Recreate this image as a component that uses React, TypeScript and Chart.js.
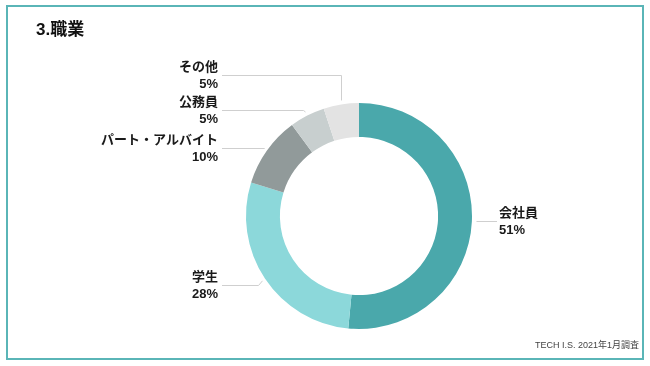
import React, { useEffect, useRef } from "react";
import { Chart, registerables } from "chart.js";

Chart.register(...registerables);

const categories = ["会社員", "学生", "パート・アルバイト", "公務員", "その他"];
const values = [51, 28, 10, 5, 5];
const percentLabels = ["51%", "28%", "10%", "5%", "5%"];
const colors = ["#4aa8ab", "#8cd8da", "#919a9a", "#c8cfcf", "#e3e3e3"];
const titleText = "3.職業";
const footerText = "TECH I.S. 2021年1月調査";

// layout: vertical level of each label's leader line
const leaderY = [221, 285, 148, 110, 75];

const FONT = '"Liberation Sans", "Noto Sans CJK JP", sans-serif';

const decorPlugin = {
  id: "decor",
  afterDraw(chart: any) {
    const ctx = chart.ctx;
    const W = chart.width;
    ctx.save();
    // frame
    ctx.strokeStyle = "#5ab5b7";
    ctx.lineWidth = 2;
    ctx.strokeRect(7, 6, W - 14, 353);
    // title
    ctx.fillStyle = "#111";
    ctx.font = `bold 17px ${FONT}`;
    ctx.textAlign = "left";
    ctx.textBaseline = "middle";
    ctx.fillText(titleText, 36, 30);
    // footer
    ctx.fillStyle = "#444";
    ctx.font = `9px ${FONT}`;
    ctx.textAlign = "right";
    ctx.fillText(footerText, W - 11, 346);

    const meta = chart.getDatasetMeta(0);
    const ca = chart.chartArea;
    meta.data.forEach((arc: any, i: number) => {
      const p = arc.getProps(["x", "y", "startAngle", "endAngle", "outerRadius"], true);
      const mid = (p.startAngle + p.endAngle) / 2;
      const r = p.outerRadius + 4;
      const ax = p.x + Math.cos(mid) * r;
      const ay = p.y + Math.sin(mid) * r;
      const right = Math.cos(mid) > 0;
      const ly = leaderY[i];
      const dy = Math.abs(ay - ly);
      const off = dy < 8 ? Math.min(4, dy) : 0;
      const elbowX = right ? ax + off : ax - off;
      const endX = right ? ca.right + 25 : ca.left - 24;
      ctx.strokeStyle = "#cfcfcf";
      ctx.lineWidth = 1;
      ctx.beginPath();
      ctx.moveTo(Math.round(ax) + 0.5, ay);
      ctx.lineTo(Math.round(elbowX) + 0.5, ly + 0.5);
      ctx.lineTo(endX, ly + 0.5);
      ctx.stroke();
      ctx.fillStyle = "#1a1a1a";
      ctx.font = `bold 13px ${FONT}`;
      ctx.textBaseline = "middle";
      ctx.textAlign = right ? "left" : "right";
      const tx = right ? endX + 2 : endX - 4;
      ctx.fillText(categories[i], tx, ly - 8);
      ctx.fillText(percentLabels[i], tx, ly + 9);
    });
    ctx.restore();
  },
};

export default function App() {
  const ref = useRef<HTMLCanvasElement>(null);
  useEffect(() => {
    document.body.style.margin = "0";
    const chart = new Chart(ref.current as HTMLCanvasElement, {
      type: "doughnut",
      data: {
        labels: categories,
        datasets: [
          {
            data: values,
            backgroundColor: colors,
            borderWidth: 0,
          },
        ],
      },
      options: {
        animation: false,
        responsive: false,
        cutout: "70%",
        layout: { padding: { left: 246, right: 178, top: 103, bottom: 37 } },
        plugins: {
          legend: { display: false },
          tooltip: { enabled: false },
        },
      },
      plugins: [decorPlugin],
    });
    return () => chart.destroy();
  }, []);
  return (
    <div style={{ position: "absolute", left: 0, top: 0, width: 650, height: 366, background: "#fff" }}>
      <canvas ref={ref} width={650} height={366} />
    </div>
  );
}
